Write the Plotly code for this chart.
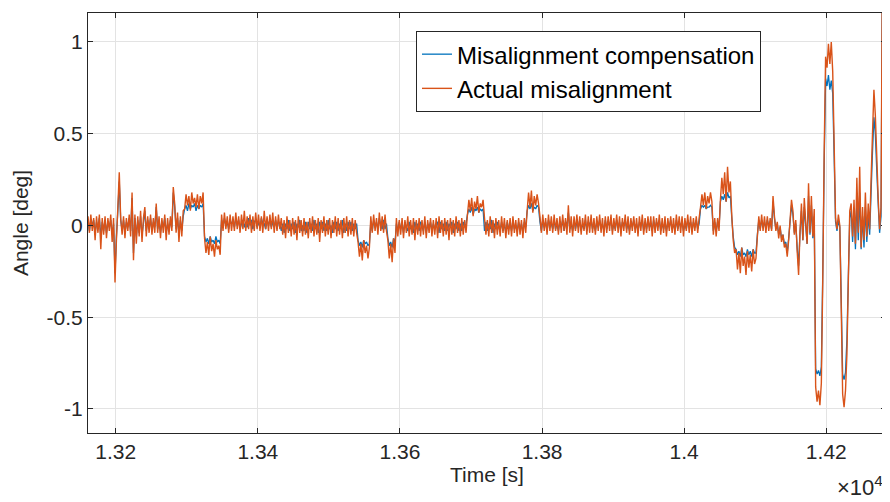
import plotly.graph_objects as go

# ---- sampling clock of the recording (seconds) ----
t_start = 13161
t_step = 2

# ---- actual misalignment, hundredths of a degree, one value per sample ----
actual = [
    5, -4, 6, -3, 4, -8, 5, -4, 6, -13, 4, -5, 5, -7, 4, -3, 6, -9, 4,
    -31, -8, 10, 29, 4,
    -5, 5, -7, 4, -3, 6, -6,
    18, -19,
    6, -10, 5, -6, 8, -9, 4,
    10,
    -6, 5, -4, 6, -5, 4, -4,
    12,
    -4, 5, -7, 4, -4, 6, -8, 4, -5, 5, -3,
    21, 12,
    -4, 7, -9, 5, -6, 8,
    9, 17, 11, 16, 8, 18, 12, 15, 10, 17, 9, 16, 12, 18,
    -7, -15, -9, -16, -6, -14, -10, -17, -8, -13, -11, -16,
    6, -3, 7, -2, 5, -4, 6, -3, 5, -3, 7, -2, 5, -4, 6, -2, 8, -3, 5, -2,
    6, -4, 5, -3, 7, -2, 6, -3, 5, -4, 8, -2, 5, -3, 6, -2, 7, -4, 5, -3, 6, -2,
    4, -5, 3, -7, 5, -4, 3, -6, 4, -5, 3, -8, 5, -4, 3, -6, 4, -5, 2, -7,
    4, -4, 5, -6, 3, -5, 4, -9, 3, -4, 5, -6, 3, -5, 4, -7, 3, -4, 5, -6,
    4, -5, 3, -7, 4, -4, 5, -6, 3, -5, 4, -6, 3, -4,
    -9, -17, -10, -19, -8, -15, -11, -18, -12,
    5, -4, 6, -3, 4, -5, 7, -3, 5, -4, 6, -3,
    -8, -18, -10, -20, -7, -15,
    4, -6, 3, -5, 4, -7, 3, -4, 5, -6, 3, -5, 4, -8, 3, -5, 4, -6, 3, -5,
    5, -7, 3, -4, 4, -6, 3, -5, 4, -7, 5, -4, 3, -6, 4, -5, 3, -8, 4, -5,
    3, -6, 5, -4, 3, -6, 4, -5, 3, -4,
    6, 14, 8, 15, 5, 13, 9, 16, 7, 12, 10, 14,
    4, -5, 3, -6, 5, -4, 3, -7, 4, -5, 3, -6, 5, -4, 4, -7, 3, -5, 4, -6,
    5, -4, 3, -6, 4, -5, 3, -7, 4, -4,
    8, 18, 10, 19, 7, 16, 11, 17, 12,
    5, -4, 6, -3, 4, -5, 6, -3, 5, -4, 6, -3, 4, -5, 5, -4, 6, -3, 4, -5,
    11, -4, 5, -6, 5, -3, 6, -4, 5, -5, 4, -3, 6, -5, 5, -4, 6, -4, 4, -5,
    5, -3, 6, -4, 4, -6, 5, -4, 5, -3, 6, -5, 4, -3, 6, -4, 5, -6, 4, -3,
    6, -4, 5, -5, 4, -3, 5, -4, 4, -6, 5, -3, 6, -5, 4, -4, 5, -3, 5, -6,
    5, -4, 4, -3, 6, -5, 4, -4, 5, -6, 4, -3, 5, -4, 4, -5, 6, -3, 5, -4,
    5, -6, 4, -3, 6, -4, 5, -5, 4, -3, 5, -4, 4,
    10, 17, 11, 18, 9, 16, 12, 18, 13,
    -5, 4, -6, 4, -3,
    14, 26, 17, 29, 13, 32, 18, 24,
    5, -8, -15,
    -13, -24, -15, -26, -12, -22, -17, -27, -14, -23, -16, -25, -13, -21, -18,
    -6, 5, -3, 6, -3, 5, -4, 5, -3, 4, -3,
    16,
    5, -3, 2, -7, 0, -9, -5, -12, -10, -17,
    -8, 3, 14,
    8, -5, 3, -14, -27,
    -3, 12, -8, 15, 2, -10, 23, -4, 16, -6, 9,
    -88, -96, -90, -98, -86,
    -30, 40,
    92, 86, 99, 88, 100, 84,
    45, 4,
    -2, 6, 0,
    -45, -92, -99, -90,
    -70, -30, 8,
    12, -6, 14, -10, 26, -4, 32, -12, 10, -8, 18, -6, 12, -2,
    25, 50, 74, 60,
    38, 15, -2,
    10, 150, 20, -140, 30,
]

# ---- misalignment compensation, hundredths of a degree ----
compensation = [
    2, -3, 3, 0, 3, -4, 2, -2, 4, -6, 2, -3, 3, -4, 2, -1, 3, -5, 1,
    -26, -6, 8, 24, 3,
    -3, 3, -4, 2, -1, 4, -3,
    15, -15,
    4, -6, 3, -4, 5, -5, 1,
    8,
    -3, 3, -2, 4, -3, 2, -1,
    10,
    -2, 3, -4, 2, -1, 4, -4, 1, -3, 3, -1,
    18, 10,
    -2, 4, -5, 3, -3, 5,
    9, 11, 8, 12, 9, 11, 10, 12, 8, 11, 9, 11, 10, 12,
    -6, -9, -7, -10, -6, -9, -8, -10, -6, -9, -8, -10,
    3, -1, 4, 0, 2, -2, 3, 1, 2, -1, 4, 0, 3, -2, 1, 3, -1, 2, -1, 4,
    0, 3, -2, 2, 3, -1, 2, -1, 4, 1, 1, -2, 3, 0, 3, -1, 2, -1, 3, -2, 2, 1,
    -3, 1, -4, 1, -2, 3, -3, 1, -2, 2, -4, 1, -1, 3, -3, 0, -3, 2, -4, 2,
    -2, 1, -3, 3, -2, 1, -4, 2, -1, 2, -3, 1, -3, 3, -2, 0, -4, 2, -2, 2,
    -3, 1, -2, 3, -4, 1, -3, 2, -2, 2, -3, 1, -2, 1,
    -8, -11, -9, -12, -8, -10, -9, -11, -10,
    2, -3, 3, -1, 2, -2, 4, 0, -2, 3, -2, 1,
    -7, -11, -9, -12, -7, -10,
    1, -3, 2, -2, 1, -4, 2, -1, -3, 2, -2, 0, -4, 2, -2, 1, -3, 2, 0, -3,
    2, -4, 1, -1, 2, -3, 1, -2, 0, 2, -4, 2, -2, 1, -3, 2, -3, 1, -1, 2,
    -4, 1, -2, 2, -3, 1, -3, 2, -1, 1,
    6, 9, 7, 10, 6, 9, 8, 10, 7, 9, 8, 9,
    -3, 2, -3, 1, -2, 3, -4, 1, -2, 2, -1, -3, 2, -3, 1, -4, 2, -2, 1, -3,
    3, -2, 0, -3, 2, -2, 1, -4, 2, -1,
    8, 11, 9, 12, 8, 10, 9, 11, 10,
    2, -3, 3, -1, 2, -3, 3, 0, 1, -2, 3, -2, 1, -3, 2, -1, 3, -3, 2, 0,
    7, -2, 1, -3, 3, -2, 2, -1, 3, -3, 1, -2, 3, -3, 2, 0, 3, -2, 1, -3,
    2, -1, 3, -2, 1, -3, 3, -2, 2, 0, 3, -3, 1, -2, 3, -1, 2, -3, 2, 0,
    3, -2, 1, -3, 2, -1, 3, -2, 1, -3, 2, 0, 3, -3, 2, -2, 3, -1, 1, -3,
    3, -2, 2, 0, 3, -3, 1, -2, 2, -3, 2, -1, 3, -2, 1, -3, 3, -2, 2, -1,
    3, -3, 1, -2, 3, 0, 2, -3, 2, -1, 3, -2, 1,
    9, 11, 10, 11, 9, 10, 10, 11, 10,
    -3, 2, -3, 2, -1,
    13, 16, 14, 17, 13, 18, 15, 16,
    4, -6, -12,
    -13, -16, -14, -17, -12, -16, -15, -17, -13, -16, -14, -17, -13, -15, -15,
    -5, 3, -2, 3, -1, 2, -2, 3, 0, 2, -2,
    13,
    4, -2, 1, -5, -1, -7, -5, -10, -9, -15,
    -7, 2, 11,
    6, -4, 1, -12, -22,
    -4, 8, -8, 10, 0, -10, 16, -5, 11, -7, 5,
    -78, -81, -79, -82, -77,
    -26, 34,
    80, 76, 82, 74, 79, 72,
    38, 2,
    -3, 3, -1,
    -40, -81, -84, -80,
    -62, -28, 4,
    8, -9, 9, -13, 14, -8, 18, -13, 5, -12, 10, -9, 6, -5,
    18, 40, 59, 50,
    30, 12, -4,
    5, 140, -5, 5, -10,
]

x_tick_values = [13200, 13400, 13600, 13800, 14000, 14200]
x_tick_labels = ["1.32", "1.34", "1.36", "1.38", "1.4", "1.42"]
y_tick_values = [-1, -0.5, 0, 0.5, 1]
y_tick_labels = ["-1", "-0.5", "0", "0.5", "1"]

n = min(len(actual), len(compensation))
time_s = [t_start + t_step * i for i in range(n)]
actual_deg = [v / 100 for v in actual[:n]]
comp_deg = [v / 100 for v in compensation[:n]]

FONT = "Liberation Sans, Arial, Helvetica, sans-serif"
AX = "#262626"
GRID = "#e3e3e3"

fig = go.Figure()
fig.add_trace(go.Scatter(x=time_s, y=comp_deg, mode="lines",
                         name="Misalignment compensation",
                         line=dict(color="#0072BD", width=1.3, simplify=False)))
fig.add_trace(go.Scatter(x=time_s, y=actual_deg, mode="lines",
                         name="Actual misalignment",
                         line=dict(color="#D95319", width=1.4, simplify=False)))

# the page body keeps an 8 px margin, so the figure is 8 px smaller each way
fig.update_layout(
    width=882, height=494,
    margin=dict(l=80, r=4, t=5, b=69, autoexpand=False),
    paper_bgcolor="white", plot_bgcolor="white",
    font=dict(family=FONT, size=21, color=AX),
    showlegend=True,
    legend=dict(
        x=0.411, y=0.957, xanchor="left", yanchor="top",
        bgcolor="white", bordercolor=AX, borderwidth=1,
        font=dict(family=FONT, size=24, color="black"),
        tracegroupgap=0, itemwidth=30,
    ),
    annotations=[dict(
        text="×10<sup>4</sup>", xref="paper", yref="paper",
        x=0.999, y=-0.164, xanchor="right", yanchor="bottom",
        showarrow=False, font=dict(family=FONT, size=22, color=AX),
    )],
)
fig.update_xaxes(
    range=[13161, 14284], tickmode="array",
    tickvals=x_tick_values, ticktext=x_tick_labels,
    ticks="inside", ticklen=5, tickcolor=AX,
    showline=True, linecolor=AX, linewidth=1, mirror="ticks",
    showgrid=True, gridcolor=GRID, gridwidth=1, zeroline=False,
    automargin=False,
    title=dict(text="Time [s]", font=dict(family=FONT, size=21, color=AX), standoff=4),
)
fig.update_yaxes(
    range=[-1.131, 1.158], tickmode="array",
    tickvals=y_tick_values, ticktext=y_tick_labels,
    ticks="inside", ticklen=5, tickcolor=AX,
    showline=True, linecolor=AX, linewidth=1, mirror="ticks",
    showgrid=True, gridcolor=GRID, gridwidth=1, zeroline=False,
    automargin=False,
    title=dict(text="Angle [deg]", font=dict(family=FONT, size=21, color=AX), standoff=12),
)

fig.write_html("out.html")
